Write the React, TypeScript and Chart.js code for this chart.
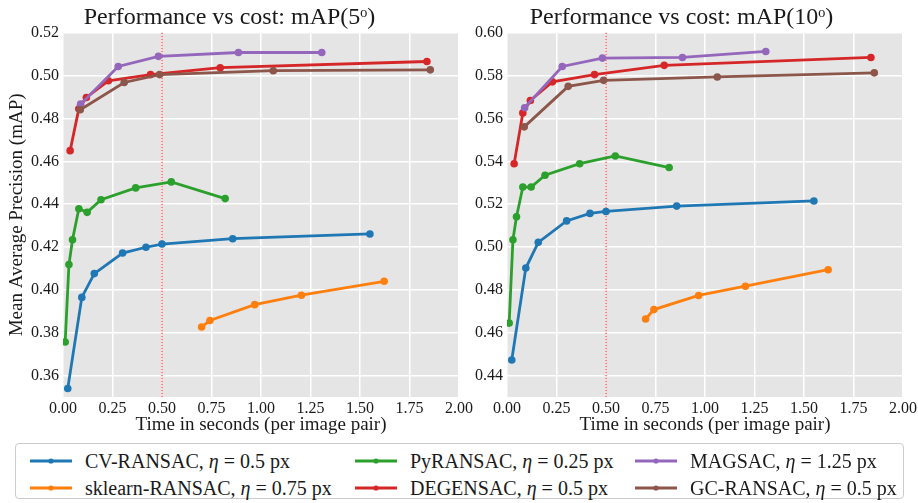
import React, { useEffect, useRef } from 'react';
import { Chart, registerables } from 'chart.js';
Chart.register(...registerables);

const FONT = '"Liberation Serif", "DejaVu Serif", serif';
const TEXT = '#1a1a1a';

// ---- data ----
const METHODS = ['CV-RANSAC', 'sklearn-RANSAC', 'PyRANSAC', 'DEGENSAC', 'MAGSAC', 'GC-RANSAC'];
const THRESHOLDS = ['0.5', '0.75', '0.25', '0.5', '1.25', '0.5'];

const cvTime = [0.024, 0.095, 0.158, 0.301, 0.419, 0.5, 0.857, 1.55];
const cvMap5 = [0.354, 0.3965, 0.4076, 0.4172, 0.4199, 0.4214, 0.4239, 0.4261];
const cvMap10 = [0.4473, 0.4902, 0.5022, 0.5122, 0.5157, 0.5166, 0.5191, 0.5215];

const skTime = [0.7, 0.742, 0.968, 1.204, 1.622];
const skMap5 = [0.3827, 0.3857, 0.3931, 0.3975, 0.404];
const skMap10 = [0.4664, 0.4708, 0.4774, 0.4817, 0.4894];

const pyTime = [0.011, 0.03, 0.048, 0.08, 0.122, 0.192, 0.367, 0.547, 0.819];
const pyMap5 = [0.3757, 0.4118, 0.4234, 0.4379, 0.4362, 0.4421, 0.4476, 0.4504, 0.4426];
const pyMap10 = [0.4645, 0.5034, 0.5141, 0.528, 0.528, 0.5335, 0.5389, 0.5425, 0.5371];

const degTime = [0.036, 0.08, 0.118, 0.229, 0.442, 0.794, 1.838];
const degMap5 = [0.465, 0.4845, 0.4898, 0.4976, 0.5005, 0.5037, 0.5066];
const degMap10 = [0.5389, 0.5626, 0.5684, 0.5771, 0.5805, 0.5848, 0.5885];

const magTime = [0.089, 0.279, 0.482, 0.886, 1.307];
const magMap5 = [0.4867, 0.5043, 0.509, 0.5108, 0.5108];
const magMap10 = [0.565, 0.5843, 0.5882, 0.5885, 0.5913];

const gcTime = [0.087, 0.309, 0.488, 1.062, 1.855];
const gcMap5 = [0.4841, 0.4968, 0.5005, 0.5023, 0.5027];
const gcMap10 = [0.5561, 0.575, 0.5778, 0.5794, 0.5813];

const TIMES = [cvTime, skTime, pyTime, degTime, magTime, gcTime];
const MAP5 = [cvMap5, skMap5, pyMap5, degMap5, magMap5, gcMap5];
const MAP10 = [cvMap10, skMap10, pyMap10, degMap10, magMap10, gcMap10];

const X_TICKS = [0, 0.25, 0.5, 0.75, 1.0, 1.25, 1.5, 1.75, 2.0];
const Y_TICKS_5 = [0.36, 0.38, 0.4, 0.42, 0.44, 0.46, 0.48, 0.5, 0.52];
const Y_TICKS_10 = [0.44, 0.46, 0.48, 0.5, 0.52, 0.54, 0.56, 0.58, 0.6];
const TIME_BUDGET = 0.5;

const COLORS = ['#1f77b4', '#ff7f0e', '#2ca02c', '#d62728', '#9467bd', '#8c564b'];

const bgPlugin = {
  id: 'ggbg',
  beforeDraw(chart: any) {
    const { ctx, chartArea } = chart;
    ctx.save();
    ctx.fillStyle = '#E5E5E5';
    ctx.fillRect(chartArea.left, chartArea.top, chartArea.right - chartArea.left, chartArea.bottom - chartArea.top);
    ctx.restore();
  },
};

const vlinePlugin = {
  id: 'vline',
  beforeDatasetsDraw(chart: any) {
    const { ctx, chartArea, scales } = chart;
    const x = scales.x.getPixelForValue(TIME_BUDGET);
    ctx.save();
    ctx.strokeStyle = '#ff3b3b';
    ctx.lineWidth = 1.2;
    ctx.setLineDash([1.5, 1.5]);
    ctx.beginPath();
    ctx.moveTo(x, chartArea.top);
    ctx.lineTo(x, chartArea.bottom);
    ctx.stroke();
    ctx.restore();
  },
};

function makeConfig(values: number[][], yTicks: number[], yMin: number, yMax: number, title: string, yTitle: boolean, yWidth: number, padRight: number): any {
  const datasets = METHODS.map((m, i) => ({
    label: `${m}, η = ${THRESHOLDS[i]} px`,
    data: TIMES[i].map((t, j) => ({ x: t, y: values[i][j] })),
    borderColor: COLORS[i],
    backgroundColor: COLORS[i],
    borderWidth: 2.8,
    pointRadius: 3.8,
    pointBorderWidth: 0,
    pointHoverRadius: 3.8,
    tension: 0,
    order: METHODS.length - i,
  }));
  return {
    type: 'line',
    data: { datasets },
    plugins: [bgPlugin, vlinePlugin],
    options: {
      animation: false,
      responsive: false,
      devicePixelRatio: 1,
      events: [],
      layout: { padding: { left: 0, right: padRight, top: 0, bottom: 0 } },
      plugins: {
        legend: { display: false },
        tooltip: { enabled: false },
        title: {
          display: true,
          text: title,
          color: TEXT,
          font: { family: FONT, size: 24, weight: 'normal' },
          padding: { top: 3, bottom: 1 },
        },
      },
      scales: {
        x: {
          type: 'linear',
          min: 0,
          max: 2,
          afterBuildTicks: (s: any) => { s.ticks = X_TICKS.map((v) => ({ value: v })); },
          afterFit: (s: any) => { s.height = 43; s.paddingLeft = 0; s.paddingRight = 0; },
          ticks: {
            callback: (v: any) => Number(v).toFixed(2),
            color: TEXT,
            font: { family: FONT, size: 16 },
            padding: 2,
            maxRotation: 0,
            autoSkip: false,
          },
          grid: { color: '#ffffff', lineWidth: 1.5, drawTicks: false },
          border: { display: false },
          title: {
            display: true,
            text: 'Time in seconds (per image pair)',
            color: TEXT,
            font: { family: FONT, size: 19 },
            padding: { top: 0, bottom: 4 },
          },
        },
        y: {
          type: 'linear',
          min: yMin,
          max: yMax,
          afterBuildTicks: (s: any) => { s.ticks = yTicks.map((v) => ({ value: v })); },
          afterFit: (s: any) => { s.width = yWidth; s.paddingTop = 0; s.paddingBottom = 0; },
          ticks: {
            callback: (v: any) => Number(v).toFixed(2),
            color: TEXT,
            font: { family: FONT, size: 16 },
            padding: 4,
            autoSkip: false,
          },
          grid: { color: '#ffffff', lineWidth: 1.5, drawTicks: false },
          border: { display: false },
          title: {
            display: yTitle,
            text: 'Mean Average Precision (mAP)',
            color: TEXT,
            font: { family: FONT, size: 19 },
            padding: { top: 6, bottom: 0 },
          },
        },
      },
    },
  };
}

function Panel(props: { config: any; left: number; width: number; height: number }) {
  const ref = useRef<HTMLCanvasElement>(null);
  useEffect(() => {
    const chart = new Chart(ref.current as HTMLCanvasElement, props.config);
    return () => chart.destroy();
  }, []);
  return (
    <canvas
      ref={ref}
      width={props.width}
      height={props.height}
      style={{ position: 'absolute', left: props.left, top: 0, width: props.width, height: props.height }}
    />
  );
}

const COL_X = [30, 355, 635];
const ROW_Y = [461, 488];

export default function App() {
  const leftCfg = makeConfig(MAP5, Y_TICKS_5, 0.35, 0.52, 'Performance vs cost: mAP(5ᵒ)', true, 63, 21);
  const rightCfg = makeConfig(MAP10, Y_TICKS_10, 0.43, 0.6, 'Performance vs cost: mAP(10ᵒ)', false, 47, 15);
  return (
    <div style={{ position: 'absolute', left: 0, top: 0, width: 918, height: 503, background: '#fff', overflow: 'hidden' }}>
      <Panel config={leftCfg} left={0} width={480} height={440} />
      <Panel config={rightCfg} left={460} width={458} height={440} />
      <div
        style={{
          position: 'absolute', left: 15, top: 443, width: 889, height: 56,
          border: '1px solid #cccccc', borderRadius: 4, background: '#fff', boxSizing: 'border-box',
        }}
      />
      {METHODS.map((m, i) => {
        const col = Math.floor(i / 2);
        const row = i % 2;
        return (
          <div
            key={m}
            style={{
              position: 'absolute', left: COL_X[col], top: ROW_Y[row] - 12, height: 24,
              display: 'flex', alignItems: 'center', whiteSpace: 'nowrap',
              fontFamily: FONT, fontSize: 20, color: TEXT,
            }}
          >
            <svg width={42} height={10} style={{ display: 'block' }}>
              <line x1={0} y1={5} x2={42} y2={5} stroke={COLORS[i]} strokeWidth={2.8} />
              <circle cx={21} cy={5} r={2.6} fill={COLORS[i]} />
            </svg>
            <span style={{ marginLeft: 13 }}>
              {m}, <i>η</i> = {THRESHOLDS[i]} px
            </span>
          </div>
        );
      })}
    </div>
  );
}
